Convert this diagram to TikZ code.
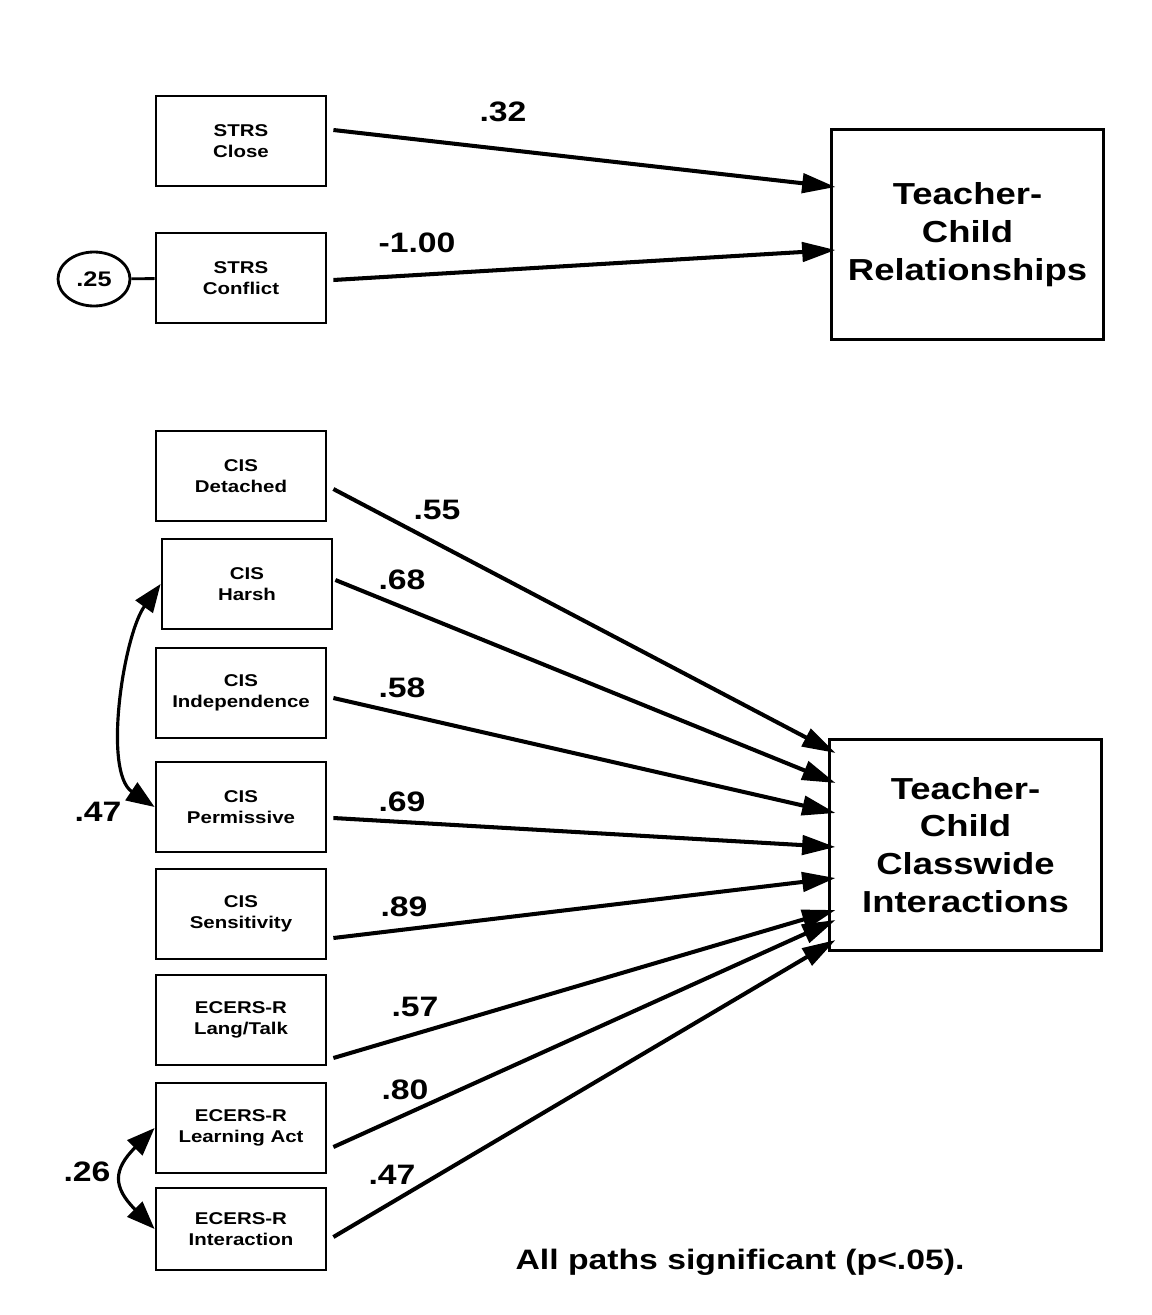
\documentclass[tikz,border=0pt]{standalone}
\usepackage{fontspec}
\setmainfont{Liberation Sans}[FakeStretch=1.2]
\usetikzlibrary{arrows.meta,calc,positioning,shapes.geometric}

\tikzset{
  var/.style={draw, line width=1.6pt, minimum width=3.4cm, minimum height=1.8cm,
    align=center, inner sep=0pt, font=\fontsize{9.7}{12}\selectfont\bfseries},
  construct/.style={draw, line width=1.7pt, minimum width=5.46cm, minimum height=4.22cm,
    align=center, font=\fontsize{17.3}{21.5}\selectfont\bfseries},
  coef/.style={inner sep=0pt, font=\fontsize{16}{18}\selectfont\bfseries},
  reg/.style={line width=2.3pt, -{Triangle[length=19pt,width=11pt]}},
  cov/.style={line width=1.8pt, {Triangle[length=16pt,width=12pt]}-{Triangle[length=16pt,width=12pt]}},
}

\begin{document}
\begin{tikzpicture}[x=0.02cm,y=0.02cm]
\useasboundingbox (0,0) rectangle (1152,-1315);

% outcomes
\node[construct] (tcr) at (967.5,-234.5) {Teacher-\\Child\\Relationships};
\node[construct] (tcci) at (965.5,-845) {Teacher-\\Child\\Classwide\\Interactions};

% indicators
\node[var] (close) at (241,-141) {STRS\\Close};
\node[var] (conflict) at (241,-278) {STRS\\Conflict};
\node[var] (detached) at (241,-476) {CIS\\Detached};
\node[var] (harsh) at (247,-584) {CIS\\Harsh};
\node[var] (indep) at (241,-693) {CIS\\Independence};
\node[var] (permis) at (241,-807) {CIS\\Permissive};
\node[var] (sensit) at (241,-914) {CIS\\Sensitivity};
\node[var] (langtalk) at (241,-1020) {ECERS-R\\Lang/Talk};
\node[var] (learnact) at (241,-1128) {ECERS-R\\Learning Act};
\node[var, minimum height=1.64cm] (interact) at (241,-1229) {ECERS-R\\Interaction};

% error
\node[draw, ellipse, line width=1.6pt, minimum width=1.44cm, minimum height=1.08cm,
  inner sep=0pt, font=\fontsize{12}{14}\selectfont\bfseries] (err) at (94,-279) {.25};
\draw[line width=1.6pt] (err) -- (conflict);

% loadings
\draw[reg] ($(close.east)+(6,11)$) -- ($(tcr.west)+(6,47.5)$);
\draw[reg] ($(conflict.east)+(6,-2)$) -- ($(tcr.west)+(6,-15.5)$);
\draw[reg] ($(detached.east)+(6,-13)$) -- ($(tcci.west)+(8,92)$);
\draw[reg] ($(harsh.east)+(2,4)$) -- ($(tcci.west)+(8,62)$);
\draw[reg] ($(indep.east)+(6,-5)$) -- ($(tcci.west)+(8,32)$);
\draw[reg] ($(permis.east)+(6,-11)$) -- ($(tcci.west)+(8,-2)$);
\draw[reg] ($(sensit.east)+(6,-24)$) -- ($(tcci.west)+(8,-33)$);
\draw[reg] ($(langtalk.east)+(6,-38)$) -- ($(tcci.west)+(8,-65)$);
\draw[reg] ($(learnact.east)+(6,-19)$) -- ($(tcci.west)+(8,-75)$);
\draw[reg] ($(interact.east)+(6,-8)$) -- ($(tcci.west)+(8,-95)$);

\node[coef] (c32) at (503,-112) {.32};
\node[coef] (c100) at (417,-243) {-1.00};
\node[coef] (c55) at (437,-510) {.55};
\node[coef] (c68) at (402,-580) {.68};
\node[coef] (c58) at (402,-688) {.58};
\node[coef] (c69) at (402,-802) {.69};
\node[coef] (c89) at (404,-907) {.89};
\node[coef] (c57) at (415,-1007) {.57};
\node[coef] (c80) at (405,-1090) {.80};
\node[coef] (c47) at (392,-1175) {.47};

% correlated errors
\draw[cov] (harsh.west) to[out=234, in=146, looseness=0.72] (permis.west);
\draw[cov] (learnact.west) to[out=225, in=135, looseness=1.5] (interact.west);
\node[coef] (r47) at (98,-812) {.47};
\node[coef] (r26) at (87,-1172) {.26};

\node[coef] (note) at (740,-1262) {All paths significant (p<.05).};
\end{tikzpicture}
\end{document}
